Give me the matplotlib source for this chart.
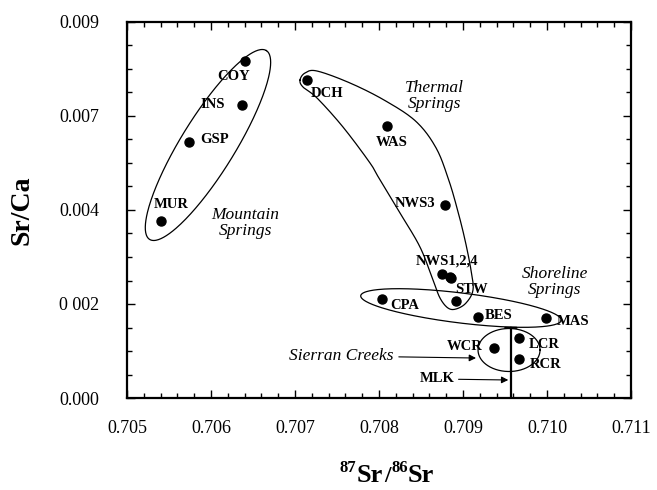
import numpy as np
import matplotlib
matplotlib.use("Agg")
import matplotlib.pyplot as plt
from matplotlib.ticker import FixedLocator, FixedFormatter, MultipleLocator

# ---------------- data ----------------
names = ["COY", "INS", "GSP", "MUR", "DCH", "WAS", "NWS3", "NWS1", "NWS2", "NWS4",
         "STW", "CPA", "BES", "MAS", "LCR", "RCR", "WCR"]
sr_ratio = [0.70640, 0.70637, 0.70574, 0.70540, 0.70714, 0.70809, 0.70879, 0.70875, 0.70885, 0.70886,
            0.70892, 0.70804, 0.70918, 0.70999, 0.70967, 0.70967, 0.70937]
sr_ca = [0.00807, 0.00701, 0.00613, 0.00424, 0.00760, 0.00652, 0.00462, 0.00297, 0.00289, 0.00287,
         0.00231, 0.00237, 0.00193, 0.00192, 0.00144, 0.00093, 0.00120]

# MLK: Sr ratio known, Sr/Ca range
mlk_ratio = 0.70957
mlk_srca_range = [0.0, 0.00168]

label_text = ["COY", "INS", "GSP", "MUR", "DCH", "WAS", "NWS3", "NWS1,2,4", "STW", "CPA",
              "BES", "MAS", "WCR", "LCR", "RCR"]
label_x = [0.706274, 0.706015, 0.706039, 0.705520, 0.707377, 0.708151, 0.708429, 0.708806, 0.709104,
           0.708310, 0.709429, 0.710306, 0.709024, 0.709964, 0.709988]
label_y = [0.007691, 0.007030, 0.006199, 0.004636, 0.007293, 0.006120, 0.004660, 0.003286, 0.002602,
           0.002209, 0.001970, 0.001826, 0.001228, 0.001285, 0.000790]

group_text = ["Mountain\nSprings", "Thermal\nSprings", "Shoreline\nSprings"]
group_x = [0.706405, 0.708662, 0.710095]
group_y = [0.004180, 0.007232, 0.002765]

xticks = [0.705, 0.706, 0.707, 0.708, 0.709, 0.710, 0.711]
xticklabels = ["0.705", "0.706", "0.707", "0.708", "0.709", "0.710", "0.711"]
yticks = [0.0, 0.00225, 0.0045, 0.00675, 0.009]
yticklabels = ["0.000", "0 002", "0.004", "0.007", "0.009"]

# group outline (data coords)
thermal_x = [0.707060, 0.707119, 0.707262, 0.707655, 0.708071, 0.708440, 0.708680, 0.708830, 0.708935,
             0.709024, 0.709095, 0.709119, 0.709036, 0.708917, 0.708821, 0.708726, 0.708643,
             0.708488, 0.708250, 0.708012, 0.707893, 0.707571, 0.707262, 0.707095]
thermal_y = [0.007612, 0.007779, 0.007827, 0.007540, 0.007120, 0.006620, 0.005984, 0.005218, 0.004500,
             0.003782, 0.003064, 0.002585, 0.002274, 0.002130, 0.002154, 0.002394, 0.002824,
             0.003614, 0.004428, 0.005218, 0.005625, 0.006487, 0.007181, 0.007444]

# ---------------- figure ----------------
plt.rcParams["font.family"] = ["Liberation Serif", "DejaVu Serif"]
fig = plt.figure(figsize=(6.57, 4.90), dpi=100)
ax = fig.add_axes([127 / 657, 92 / 490, 504 / 657, 376 / 490])
ax.set_xlim(0.705, 0.711)
ax.set_ylim(0.0, 0.009)

ax.xaxis.set_major_locator(FixedLocator(xticks))
ax.xaxis.set_major_formatter(FixedFormatter(xticklabels))
ax.xaxis.set_minor_locator(MultipleLocator(0.0002))
ax.yaxis.set_major_locator(FixedLocator(yticks))
ax.yaxis.set_major_formatter(FixedFormatter(yticklabels))
ax.yaxis.set_minor_locator(MultipleLocator(0.0005625))
ax.tick_params(which="both", direction="in", top=True, right=True, width=1.0, color="black")
ax.tick_params(which="major", length=6)
ax.tick_params(which="minor", length=3.5)
ax.tick_params(axis="x", which="major", pad=16, labelsize=13)
ax.tick_params(axis="y", which="major", pad=20, labelsize=13)
for s in ax.spines.values():
    s.set_linewidth(1.6)

# points
ax.plot(sr_ratio, sr_ca, "o", color="black", ms=6.5, zorder=5)

# MLK line with cap
ax.plot([mlk_ratio, mlk_ratio], mlk_srca_range, color="black", lw=1.6, zorder=4)
ax.annotate("", xy=(mlk_ratio, mlk_srca_range[1]), xytext=(-4, 0), textcoords="offset points",
            arrowprops=dict(arrowstyle="-", lw=1.6, color="black", shrinkA=0, shrinkB=0))
ax.annotate("", xy=(mlk_ratio, mlk_srca_range[1]), xytext=(4, 0), textcoords="offset points",
            arrowprops=dict(arrowstyle="-", lw=1.6, color="black", shrinkA=0, shrinkB=0))

fig.canvas.draw()


def ellipse(cx, cy, a_px, b_px, ang_deg, n=300):
    t = np.linspace(0, 2 * np.pi, n)
    a = np.radians(ang_deg)
    dx = a_px * np.cos(t) * np.cos(a) - b_px * np.sin(t) * np.sin(a)
    dy = a_px * np.cos(t) * np.sin(a) + b_px * np.sin(t) * np.cos(a)
    c = ax.transData.transform((cx, cy))
    pts = ax.transData.inverted().transform(np.c_[c[0] + dx, c[1] + dy])
    ax.plot(pts[:, 0], pts[:, 1], color="black", lw=0.9, zorder=3)


def smooth_closed(xs, ys, n=20):
    P = np.c_[xs, ys]
    m = len(P)
    out = []
    for i in range(m):
        p0, p1, p2, p3 = P[(i - 1) % m], P[i], P[(i + 1) % m], P[(i + 2) % m]
        for t in np.linspace(0, 1, n, endpoint=False):
            t2, t3 = t * t, t * t * t
            out.append(0.5 * ((2 * p1) + (-p0 + p2) * t + (2 * p0 - 5 * p1 + 4 * p2 - p3) * t2
                              + (-p0 + 3 * p1 - 3 * p2 + p3) * t3))
    out.append(out[0])
    return np.array(out)


# Mountain springs ellipse
ellipse(0.705964, 0.006056, 111, 27, 58.3)
# Shoreline springs ellipse
ellipse(0.708976, 0.002154, 101, 15, -7)
# Sierran creeks ellipse
ellipse(0.709548, 0.001149, 31, 21.5, 0)
# Thermal outline
th = smooth_closed(thermal_x, thermal_y)
ax.plot(th[:, 0], th[:, 1], color="black", lw=0.9, zorder=3)

# point labels
for t, x, y in zip(label_text, label_x, label_y):
    ax.text(x, y, t, ha="center", va="center", fontsize=10.5, fontweight="bold", zorder=6)

for t, x, y in zip(group_text, group_x, group_y):
    ax.text(x, y, t, ha="center", va="center", fontsize=12.5, style="italic",
            linespacing=1.0, zorder=6)

# arrows
ax.annotate("Sierran Creeks", xy=(0.709155, 0.000957), xytext=(0.707548, 0.001005),
            ha="center", va="center", fontsize=12.5, style="italic",
            arrowprops=dict(arrowstyle="-|>", lw=0.8, color="black", mutation_scale=10,
                            shrinkA=2, shrinkB=0))
ax.annotate("MLK", xy=(0.709539, 0.000431), xytext=(0.708690, 0.000455),
            ha="center", va="center", fontsize=10.5, fontweight="bold",
            arrowprops=dict(arrowstyle="-|>", lw=0.8, color="black", mutation_scale=10,
                            shrinkA=1, shrinkB=0))

# axis labels
fig.text(22 / 657, 1 - 210 / 490, "Sr/Ca", rotation=90, ha="center", va="center",
         fontsize=20, fontweight="bold")
W, H = 657, 490
base_y = 1 - 482 / H
sup_y = 1 - 472 / H
fig.text(340 / W, sup_y, "87", fontsize=12, fontweight="bold", ha="left", va="baseline")
fig.text(357 / W, base_y, "Sr", fontsize=19, fontweight="bold", ha="left", va="baseline")
fig.text(384 / W, base_y, "/", fontsize=17, fontweight="bold", ha="left", va="baseline")
fig.text(391 / W, sup_y, "86", fontsize=12, fontweight="bold", ha="left", va="baseline")
fig.text(408 / W, base_y, "Sr", fontsize=19, fontweight="bold", ha="left", va="baseline")

fig.savefig("out.png", dpi=100)
